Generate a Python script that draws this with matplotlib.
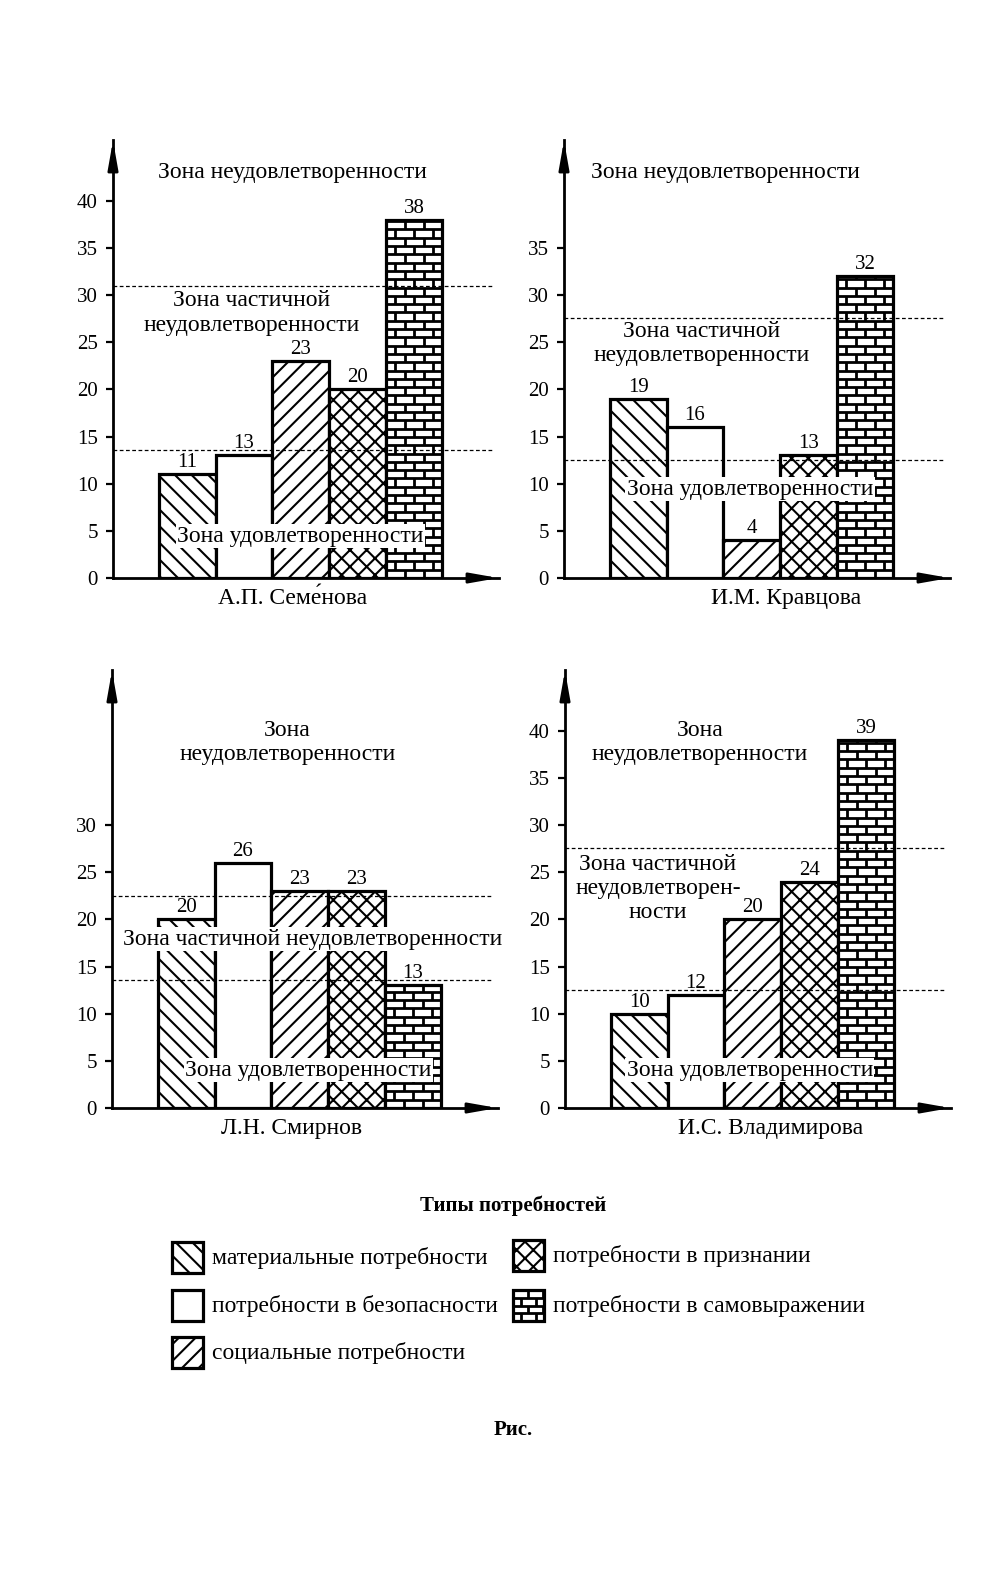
"""Four need-satisfaction profiles (bar charts with zones) plus legend."""

import matplotlib.pyplot as plt
import matplotlib.patches as mpatches
import numpy as np

plt.rcParams["font.family"] = ["Liberation Serif", "DejaVu Serif"]
plt.rcParams["hatch.linewidth"] = 1.5
plt.rcParams["hatch.color"] = "black"

# ---- data -------------------------------------------------------------
NEEDS = [
    "материальные потребности",
    "потребности в безопасности",
    "социальные потребности",
    "потребности в признании",
    "потребности в самовыражении",
]
PEOPLE = ["А.П. Семе\u0301нова", "И.М. Кравцова", "Л.Н. Смирнов", "И.С. Владимирова"]

semenova = [11, 13, 23, 20, 38]
kravtsova = [19, 16, 4, 13, 32]
smirnov = [20, 26, 23, 23, 13]
vladimirova = [10, 12, 20, 24, 39]
VALUES = [semenova, kravtsova, smirnov, vladimirova]

# zone borders (satisfied / partial, partial / unsatisfied)
ZONE_LOW = [13.6, 12.5, 13.6, 12.5]
ZONE_HIGH = [31.0, 27.6, 22.5, 27.6]
YTICK_MAX = [40, 35, 30, 40]

ZONE_TOP = ["Зона неудовлетворенности", "Зона неудовлетворенности",
            "Зона\nнеудовлетворенности", "Зона\nнеудовлетворенности"]
ZONE_MID = ["Зона частичной\nнеудовлетворенности", "Зона частичной\nнеудовлетворенности",
            "Зона частичной неудовлетворенности", "Зона частичной\nнеудовлетворен-\nности"]
ZONE_LOWER = ["Зона удовлетворенности"] * 4

# ---- layout -----------------------------------------------------------
W, H = 985, 1583
PX_PER_UNIT = 9.43          # vertical scale, px per value unit
BAR_PX = 56.7               # bar width in px
YMAX = 46.4
XMAX = 6.8
BAR_START = 0.81
HATCHES = ["\\\\", "", "//", "xx", None]

# (axis x px, zero line y px) for each panel
PANEL_ORIGIN = [(113, 578), (564, 578), (112, 1108), (565, 1108)]
# label positions in data units: top zone, middle zone, lower zone, name x
POS_TOP = [(3.16, 43.0), (2.84, 43.0), (3.09, 38.8), (2.38, 38.8)]
POS_MID = [(2.45, 28.1), (2.43, 24.9), (3.54, 17.9), (1.64, 23.3)]
POS_LOW = [(3.30, 4.45), (3.28, 9.4), (3.46, 4.0), (3.26, 4.0)]
MID_BOX = [False, False, True, False]   # middle label knocks out the bars
NAME_X = [3.17, 3.91, 3.17, 3.63]

FS = 17      # zone / legend / names
FS_NUM = 15  # ticks and bar values


def add_bricks(ax, rect, row_h, brick_w, lw):
    """Brick pattern drawn inside a rectangle (clipped to it)."""
    x0, y0 = rect.get_x(), rect.get_y()
    w, h = rect.get_width(), rect.get_height()
    n_rows = int(np.ceil(abs(h) / row_h))
    sgn = 1 if h >= 0 else -1
    for k in range(n_rows):
        yb = y0 + sgn * k * row_h
        yt = y0 + sgn * min((k + 1) * row_h, abs(h))
        if k > 0:
            ax.plot([x0, x0 + w], [yb, yb], color="black", lw=lw,
                    clip_path=rect, solid_capstyle="butt", zorder=2.5)
        off = brick_w if k % 2 == 0 else brick_w / 2
        xs = np.arange(x0 + off, x0 + w - 1e-6, brick_w)
        for xj in xs:
            ax.plot([xj, xj], [yb, yt], color="black", lw=lw,
                    clip_path=rect, solid_capstyle="butt", zorder=2.5)


fig = plt.figure(figsize=(W / 100, H / 100), dpi=100)

for i, vals in enumerate(VALUES):
    ox, oy = PANEL_ORIGIN[i]
    ax = fig.add_axes([ox / W, 1 - oy / H, XMAX * BAR_PX / W, YMAX * PX_PER_UNIT / H])
    ax.set_xlim(0, XMAX)
    ax.set_ylim(0, YMAX)
    ax.patch.set_visible(False)

    xs = BAR_START + np.arange(len(vals))
    bars = ax.bar(xs, vals, width=1, align="edge", color="white",
                  edgecolor="black", linewidth=2.3, zorder=2)
    for b, hatch in zip(bars, HATCHES):
        if hatch:
            b.set_hatch(hatch)
    add_bricks(ax, bars[4], 0.88, 1 / 3, 2.0)

    for x, v in zip(xs, vals):
        ax.annotate(str(v), (x + 0.5, v), xytext=(0, 1.5), textcoords="offset points",
                    ha="center", va="bottom", fontsize=FS_NUM, zorder=5)

    # zone borders
    for yb in (ZONE_LOW[i], ZONE_HIGH[i]):
        ax.axhline(yb, xmin=0, xmax=0.983, color="black", lw=0.9,
                   ls=(0, (3, 2)), zorder=3)

    box = dict(facecolor="white", edgecolor="none", pad=1.0)
    ax.text(*POS_TOP[i], ZONE_TOP[i], ha="center", va="center", fontsize=FS,
            linespacing=1.2, zorder=4)
    ax.text(*POS_MID[i], ZONE_MID[i], ha="center", va="center", fontsize=FS,
            linespacing=1.2, bbox=box if MID_BOX[i] else None, zorder=4)
    ax.text(*POS_LOW[i], ZONE_LOWER[i], ha="center", va="center", fontsize=FS,
            bbox=box, zorder=4)

    ax.text(NAME_X[i], -2.2, PEOPLE[i], ha="center", va="center", fontsize=FS,
            clip_on=False)

    # axes with arrows
    for side in ("top", "right"):
        ax.spines[side].set_visible(False)
    for side in ("left", "bottom"):
        ax.spines[side].set_linewidth(2.0)
    ax.set_xticks([])
    ax.set_yticks(range(0, YTICK_MAX[i] + 1, 5))
    ax.tick_params(axis="y", direction="out", length=5, width=1.6,
                   labelsize=FS_NUM, pad=6)
    arrow = dict(arrowstyle="-|>,head_length=0.85,head_width=0.15", color="black",
                 lw=2.0, shrinkA=0, shrinkB=0, mutation_scale=20)
    ax.annotate("", xy=(0, 1), xytext=(0, 0.95), xycoords="axes fraction",
                arrowprops=arrow)
    ax.annotate("", xy=(1, 0), xytext=(0.95, 0), xycoords="axes fraction",
                arrowprops=arrow)

# ---- legend -----------------------------------------------------------
lax = fig.add_axes([0, 0, 1, 1])
lax.set_xlim(0, W)
lax.set_ylim(H, 0)
lax.axis("off")

lax.text(513, 1206, "Типы потребностей", ha="center", va="center",
         fontsize=FS - 2, fontweight="bold")

LEG_POS = [(172, 1242), (172, 1290), (172, 1337), (513, 1240), (513, 1290)]
for k, (name, hatch) in enumerate(zip(NEEDS, HATCHES)):
    lx, ly = LEG_POS[k]
    r = mpatches.Rectangle((lx, ly), 31, 31, facecolor="white", edgecolor="black",
                           linewidth=2.3, hatch=hatch if hatch else None, zorder=2)
    lax.add_patch(r)
    if hatch is None:
        add_bricks(lax, r, 7.8, 15, 2.0)
    lax.text(lx + 40, ly + 16, name, ha="left", va="center", fontsize=FS)

lax.text(513, 1430, "Рис.", ha="center", va="center", fontsize=FS - 2,
         fontweight="bold")

fig.savefig("out.png", dpi=100, facecolor="white")
